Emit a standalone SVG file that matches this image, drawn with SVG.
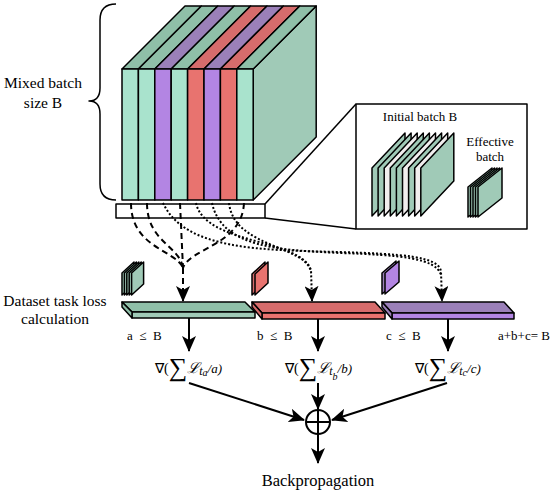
<svg xmlns="http://www.w3.org/2000/svg" width="550" height="490" viewBox="0 0 550 490" font-family="'Liberation Serif', Tinos, 'Times New Roman', 'Noto Serif', 'DejaVu Serif', serif">
<style>
.lbl{font-size:15.5px}
.sm{font-size:12.5px}
.k{stroke:#000;stroke-width:1.5;stroke-linejoin:round}
.g{fill:#a9e3cd}.gt{fill:#8fbfa8}.gs{fill:#a0cab7}
.p{fill:#b385e3}.pt{fill:#9b80b9}
.r{fill:#e8736f}.rt{fill:#d66c6c}
.w{fill:#f1eeee}
.dash{fill:none;stroke:#000;stroke-width:2;stroke-dasharray:6 4}
.dot{fill:none;stroke:#000;stroke-width:2;stroke-dasharray:2 2}
.arr{fill:none;stroke:#000;stroke-width:2}
</style>
<defs>
<marker id="ah" markerUnits="userSpaceOnUse" markerWidth="16" markerHeight="14" viewBox="0 0 16 14" refX="15" refY="7" orient="auto">
<path d="M0,0 L16,7 L0,14 L4,7 z" fill="#000"/>
</marker>
</defs>

<g id="mixed-batch">
<path class="k" fill="none" stroke-width="2" d="M116,4 Q100,4 100,20 L100,88 Q100,101 89,101 Q100,101 100,114 L100,184 Q100,200 116,200"/>
<text class="lbl" font-family="'Liberation Serif', serif" x="43" y="88" text-anchor="middle">Mixed batch</text>
<text class="lbl" font-family="'Liberation Serif', serif" x="43" y="108" text-anchor="middle">size B</text>
<polygon class="k gs" points="253.2,69 316.2,6 316.2,137 253.2,200"/>
<polygon class="k gt" points="122,69 185,6 201.4,6 138.4,69"/>
<polygon class="k gt" points="138.4,69 201.4,6 217.8,6 154.8,69"/>
<polygon class="k pt" points="154.8,69 217.8,6 234.2,6 171.2,69"/>
<polygon class="k gt" points="171.2,69 234.2,6 250.6,6 187.6,69"/>
<polygon class="k rt" points="187.6,69 250.6,6 267,6 204,69"/>
<polygon class="k pt" points="204,69 267,6 283.4,6 220.4,69"/>
<polygon class="k rt" points="220.4,69 283.4,6 299.8,6 236.8,69"/>
<polygon class="k gt" points="236.8,69 299.8,6 316.2,6 253.2,69"/>
<rect class="k g" x="122" y="69" width="16.4" height="131"/>
<rect class="k g" x="138.4" y="69" width="16.4" height="131"/>
<rect class="k p" x="154.8" y="69" width="16.4" height="131"/>
<rect class="k g" x="171.2" y="69" width="16.4" height="131"/>
<rect class="k r" x="187.6" y="69" width="16.4" height="131"/>
<rect class="k p" x="204" y="69" width="16.4" height="131"/>
<rect class="k r" x="220.4" y="69" width="16.4" height="131"/>
<rect class="k g" x="236.8" y="69" width="16.4" height="131"/>
</g>

<g id="tray">
<rect class="k" fill="#fff" x="116" y="204" width="149" height="14"/>
<line class="k" x1="265" y1="204" x2="356" y2="104"/>
<line class="k" x1="265" y1="218" x2="356" y2="229"/>
</g>

<g id="inset">
<rect class="k" fill="#fff" x="356" y="104" width="171" height="125"/>
<text font-size="13" font-family="'Liberation Serif', serif" x="420" y="121" text-anchor="middle">Initial batch B</text>
<text font-size="13" font-family="'Liberation Serif', serif" x="490" y="146" text-anchor="middle">Effective</text>
<text font-size="13" font-family="'Liberation Serif', serif" x="490" y="161" text-anchor="middle">batch</text>
<polygon class="k gs" points="372,168 405,133 405,181 372,216"/>
<polygon class="k gs" points="378.1,168 411.1,133 411.1,181 378.1,216"/>
<polygon class="k w" points="384.2,168 417.2,133 417.2,181 384.2,216"/>
<polygon class="k gs" points="390.3,168 423.3,133 423.3,181 390.3,216"/>
<polygon class="k gs" points="396.4,168 429.4,133 429.4,181 396.4,216"/>
<polygon class="k w" points="402.5,168 435.5,133 435.5,181 402.5,216"/>
<polygon class="k gs" points="408.6,168 441.6,133 441.6,181 408.6,216"/>
<polygon class="k w" points="414.7,168 447.7,133 447.7,181 414.7,216"/>
<polygon class="k gs" points="420.8,168 453.8,133 453.8,181 420.8,216"/>
<polygon class="k gs" points="468,187 492,168 492,198 468,217"/>
<polygon class="k gs" points="470.5,187 494.5,168 494.5,198 470.5,217"/>
<polygon class="k gs" points="473,187 497,168 497,198 473,217"/>
<polygon class="k gs" points="475.5,187 499.5,168 499.5,198 475.5,217"/>
<polygon class="k gs" points="478,187 502,168 502,198 478,217"/>
</g>

<g id="connectors">
<path class="dash" d="M131,203 C131,248 176,250 183,268"/>
<path class="dash" d="M147,203 C147,242 180,246 183,268"/>
<path class="dash" d="M180,203 L183,268"/>
<path class="dash" d="M244,203 C242,245 190,248 183,268"/>
<path class="dash" d="M183,268 L183,301" marker-end="url(#ah)"/>
<path class="dot" d="M196,203 C205,245 300,238 311,270 L312,301" marker-end="url(#ah)"/>
<path class="dot" d="M229,203 C234,248 306,245 311,272"/>
<path class="dot" d="M163,203 C185,250 260,250 340,252 C400,254 440,256 441,272 L442,301" marker-end="url(#ah)"/>
<path class="dot" d="M212,203 C222,248 280,250 340,253 C400,255 436,258 441,275"/>
<path class="arr" d="M189,318 L189,351" marker-end="url(#ah)"/>
<path class="arr" d="M318,319 L318,351" marker-end="url(#ah)"/>
<path class="arr" d="M448,319 L448,351" marker-end="url(#ah)"/>
<path class="arr" d="M189,383 L304,420" marker-end="url(#ah)"/>
<path class="arr" d="M318,383 L318,409" marker-end="url(#ah)"/>
<path class="arr" d="M447,383 L332,420" marker-end="url(#ah)"/>
<path class="arr" d="M318,434 L318,463" marker-end="url(#ah)"/>
</g>

<g id="task-a">
<polygon class="k gs" points="122,273 134,262 134,284 122,295"/>
<polygon class="k gs" points="124.4,273 136.4,262 136.4,284 124.4,295"/>
<polygon class="k gs" points="126.8,273 138.8,262 138.8,284 126.8,295"/>
<polygon class="k gs" points="129.2,273 141.2,262 141.2,284 129.2,295"/>
<polygon class="k gs" points="131.6,273 143.6,262 143.6,284 131.6,295"/>
<polygon class="k gt" points="122,302 245,302 255,312 132,312"/>
<polygon class="k gs" points="132,312 255,312 255,318 132,318"/>
<polygon class="k gt" points="122,302 132,312 132,318 122,307"/>
<text font-size="13" font-family="'Liberation Serif', serif" x="127" y="340" xml:space="preserve">a  ≤  B</text>
<text font-family="'Liberation Serif', serif" x="155" y="373"><tspan font-size="14">∇(</tspan><tspan font-size="26" dy="3">∑</tspan><tspan font-size="15" font-style="italic" font-family="'DejaVu Serif', serif" dy="-3">ℒ</tspan><tspan font-size="12" font-style="italic" dy="2">t</tspan><tspan font-size="10" font-style="italic" dy="1">a</tspan><tspan font-size="13" font-style="italic" dy="-3">/a)</tspan></text>
</g>

<g id="task-b">
<polygon class="k rt" points="252,274 265,262 265,283 252,295"/>
<polygon class="k r" points="255,274 268,262 268,283 255,295"/>
<polygon class="k rt" points="252,302 375,302 385,313 262,313"/>
<polygon class="k r" points="262,313 385,313 385,319 262,319"/>
<polygon class="k rt" points="252,302 262,313 262,319 252,307"/>
<text font-size="13" font-family="'Liberation Serif', serif" x="257" y="340" xml:space="preserve">b  ≤  B</text>
<text font-family="'Liberation Serif', serif" x="285" y="373"><tspan font-size="14">∇(</tspan><tspan font-size="26" dy="3">∑</tspan><tspan font-size="15" font-style="italic" font-family="'DejaVu Serif', serif" dy="-3">ℒ</tspan><tspan font-size="12" font-style="italic" dy="2">t</tspan><tspan font-size="10" font-style="italic" dy="5">b</tspan><tspan font-size="13" font-style="italic" dy="-7">/b)</tspan></text>
</g>

<g id="task-c">
<polygon class="k pt" points="382,273 396,261 396,282 382,294"/>
<polygon class="k p" points="385,273 399,261 399,282 385,294"/>
<polygon class="k pt" points="382,302 504,302 514,313 392,313"/>
<polygon class="k p" points="392,313 514,313 514,319 392,319"/>
<polygon class="k pt" points="382,302 392,313 392,319 382,307"/>
<text font-size="13" font-family="'Liberation Serif', serif" x="386" y="340" xml:space="preserve">c  ≤  B</text>
<text font-family="'Liberation Serif', serif" x="415" y="373"><tspan font-size="14">∇(</tspan><tspan font-size="26" dy="3">∑</tspan><tspan font-size="15" font-style="italic" font-family="'DejaVu Serif', serif" dy="-3">ℒ</tspan><tspan font-size="12" font-style="italic" dy="2">t</tspan><tspan font-size="10" font-style="italic" dy="1">c</tspan><tspan font-size="13" font-style="italic" dy="-3">/c)</tspan></text>
</g>

<g id="labels">
<text class="lbl" font-family="'Liberation Serif', serif" x="55" y="306" text-anchor="middle">Dataset task loss</text>
<text class="lbl" font-family="'Liberation Serif', serif" x="55" y="324" text-anchor="middle">calculation</text>
<text font-size="13" font-family="'Liberation Serif', serif" x="498" y="340">a+b+c= B</text>
</g>

<g id="sum">
<circle cx="318" cy="422" r="12" fill="#fff" stroke="#000" stroke-width="2"/>
<line x1="306" y1="422" x2="330" y2="422" stroke="#000" stroke-width="2"/>
<line x1="318" y1="410" x2="318" y2="434" stroke="#000" stroke-width="2"/>
</g>

<g id="backprop">
<text font-family="'Liberation Serif', serif" x="318" y="486" text-anchor="middle" font-size="16.5">Backpropagation</text>
</g>
</svg>
